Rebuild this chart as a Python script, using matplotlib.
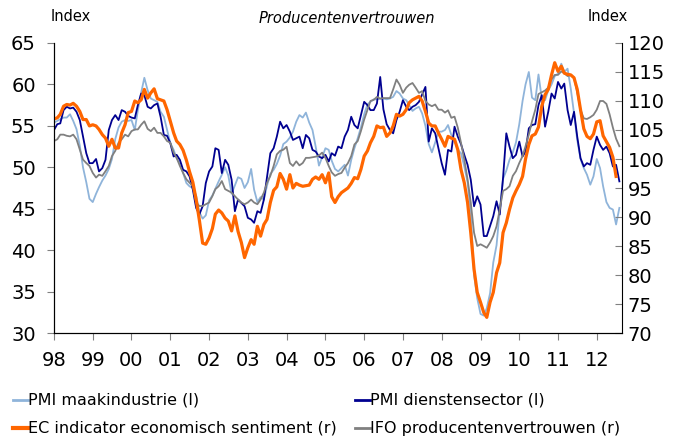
import numpy as np
import pandas as pd
import matplotlib
matplotlib.use("Agg")
import matplotlib.pyplot as plt
from matplotlib.lines import Line2D

# monthly data, Jan 1998 onwards
pmi_manu = [55.4, 55.6, 55.8, 56.0, 56.0, 56.4, 55.6, 54.6, 52.6, 50.0, 48.2, 46.2,
            45.8, 46.8, 47.6, 48.4, 49.0, 49.8, 51.0, 53.4, 54.8, 55.5, 55.7, 55.6,
            55.7, 54.5, 56.9, 59.0, 60.8, 59.3, 58.3, 58.1, 57.9, 56.7, 56.1, 54.5,
            52.9, 52.1, 51.1, 50.5, 49.3, 48.1, 47.7, 47.5, 46.6, 44.6, 43.8, 44.2,
            46.0, 46.6, 47.4, 48.3, 49.1, 50.0, 49.0, 46.8, 47.8, 48.8, 48.6, 47.5,
            48.2, 49.8, 47.3, 45.8, 46.4, 46.1, 47.8, 49.2, 49.7, 50.4, 51.4, 52.8,
            53.1, 53.6, 54.3, 55.5, 56.3, 56.0, 56.6, 55.4, 54.5, 52.5, 50.2, 51.2,
            52.3, 52.1, 50.8, 49.8, 49.5, 49.9, 50.3, 49.0, 50.9, 52.3, 53.5, 54.8,
            56.4, 57.6, 57.9, 58.2, 58.2, 58.3, 58.3, 58.2, 58.3, 58.5, 59.2, 58.9,
            58.3, 58.1, 57.5, 56.8, 57.1, 57.3, 56.5, 55.0, 52.8, 51.8, 53.0, 54.3,
            54.3, 54.5, 55.1, 53.9, 53.3, 52.1, 51.7, 50.1, 48.2, 44.5, 37.0, 34.2,
            32.3, 32.1, 33.0, 34.8, 38.5, 40.6, 44.8, 48.6, 49.6, 50.9, 51.8, 53.0,
            55.2, 58.0, 60.0, 61.5, 58.4, 58.1, 61.2, 58.3, 58.1, 59.3, 60.0, 61.0,
            61.3, 62.5, 61.5, 61.9, 59.5, 56.5, 53.3, 51.0, 49.9, 49.1, 47.9, 48.9,
            51.0, 49.9, 47.7, 45.8, 45.1, 44.9, 43.1, 45.1]

pmi_serv = [54.5, 55.2, 55.3, 56.9, 57.3, 57.1, 57.2, 56.7, 55.7, 53.7, 51.7, 50.5,
            50.5, 51.0, 49.5, 49.9, 50.9, 54.5, 55.7, 56.3, 55.7, 56.9, 56.7, 56.2,
            56.0, 55.9, 57.5, 58.9, 58.7, 57.3, 57.1, 57.5, 57.7, 56.1, 53.9, 53.8,
            52.9, 51.3, 51.5, 50.9, 49.7, 49.5, 48.9, 47.3, 45.1, 44.3, 45.3, 48.1,
            49.5, 50.1, 52.3, 52.1, 49.3, 50.9, 50.3, 48.5, 44.7, 46.1, 45.7, 45.3,
            43.9, 43.7, 43.3, 44.7, 44.5, 46.1, 48.9, 51.7, 52.3, 53.7, 55.5, 54.7,
            55.1, 54.3, 53.3, 53.5, 53.7, 52.3, 53.9, 53.5, 52.1, 51.9, 51.3, 51.1,
            51.5, 50.7, 51.7, 51.4, 52.5, 52.3, 53.7, 54.5, 56.1, 55.1, 54.7, 56.3,
            57.9, 57.5, 56.9, 56.9, 57.7, 60.9, 57.0, 55.2, 54.5, 54.1, 55.7, 56.7,
            58.1, 57.3, 56.9, 57.3, 57.5, 57.9, 58.8, 59.7, 53.1, 54.7, 54.1, 52.3,
            50.5, 49.1, 52.1, 51.9, 54.9, 53.7, 52.8, 51.5, 50.3, 48.5, 45.3, 46.5,
            45.5, 41.7, 41.7, 42.9, 44.1, 45.9, 44.3, 48.7, 54.1, 52.5, 51.1, 51.5,
            53.1, 51.3, 51.9, 54.7, 55.1, 55.2, 57.5, 58.7, 54.9, 56.7, 58.9, 58.3,
            60.3, 59.5, 60.1, 56.9, 55.1, 56.7, 53.7, 51.1, 50.1, 50.5, 50.3, 52.1,
            53.7, 52.7, 52.1, 52.5, 51.7, 50.1, 50.3, 48.3]

ec_esi = [106.9, 107.1, 107.7, 109.1, 109.4, 109.3, 109.6, 109.1, 108.2, 106.8, 106.8, 105.7,
          105.9, 105.7, 105.1, 104.2, 103.6, 102.2, 103.4, 101.9, 101.9, 104.5, 105.9, 108.0,
          108.2, 110.0, 109.7, 110.2, 112.0, 110.5, 111.4, 112.1, 110.4, 110.2, 110.0, 108.5,
          106.5, 104.5, 103.1, 102.5, 101.5, 99.8, 97.8, 96.0, 93.0, 89.5, 85.5, 85.3,
          86.4, 88.0, 90.5, 91.2, 90.7, 89.8, 89.3, 87.6, 90.2, 87.5, 85.6, 83.0,
          84.7, 86.1, 85.3, 88.4, 86.7, 88.7, 89.6, 92.5, 94.6, 95.2, 97.5, 96.5,
          94.8, 97.3, 95.0, 95.8, 95.5, 95.3, 95.4, 95.5, 96.5, 96.9, 96.5, 97.3,
          95.9, 97.6, 93.5, 92.5, 93.5, 94.2, 94.6, 95.0, 95.8, 96.8, 96.6, 98.2,
          100.5, 101.4, 102.8, 103.9, 105.7, 105.4, 105.5, 103.9, 104.5, 105.7, 107.7, 107.4,
          107.7, 108.5, 109.7, 110.2, 110.5, 110.8, 110.0, 108.2, 106.2, 105.7, 105.7, 104.5,
          103.4, 102.2, 103.9, 103.6, 103.4, 101.6, 98.2, 95.9, 92.5, 87.3, 81.0, 77.0,
          75.3, 73.5, 72.7, 75.3, 77.0, 80.4, 82.1, 87.3, 89.0, 91.3, 93.3, 94.5,
          95.6, 97.0, 100.0, 102.5, 104.0, 104.3, 105.5, 109.1, 111.1, 112.0, 114.5, 116.6,
          115.1, 116.0, 114.8, 114.6, 114.5, 114.0, 112.0, 108.5, 105.2, 103.9, 103.5, 104.3,
          106.4, 106.6, 104.0, 103.0, 102.0, 100.3, 97.0]

ifo = [103.1, 103.4, 104.2, 104.2, 104.0, 103.9, 104.2, 103.4, 101.6, 99.9, 99.3, 98.8,
       97.6, 96.8, 97.3, 97.1, 97.9, 98.8, 100.5, 101.4, 102.8, 103.4, 104.2, 103.9,
       104.8, 105.1, 105.1, 105.9, 106.5, 105.2, 104.8, 105.4, 104.5, 104.5, 103.9, 103.1,
       102.8, 101.1, 100.2, 98.8, 97.6, 96.5, 95.9, 95.3, 92.5, 91.9, 91.9, 92.2,
       92.5, 93.6, 94.8, 95.3, 96.2, 94.8, 94.5, 94.2, 93.6, 93.0, 92.5, 92.2,
       92.5, 93.0, 92.5, 92.2, 93.0, 94.2, 95.9, 97.1, 98.8, 100.8, 101.4, 101.6,
       102.1, 99.3, 98.8, 99.6, 98.9, 99.3, 100.2, 100.2, 100.3, 100.4, 100.6, 101.1,
       100.2, 98.8, 97.7, 97.1, 97.4, 97.6, 98.5, 99.3, 100.5, 102.5, 103.1, 104.8,
       106.8, 108.5, 110.0, 110.2, 110.7, 110.4, 110.5, 110.5, 110.5, 112.0, 113.7, 112.8,
       111.4, 112.3, 112.8, 113.1, 112.3, 111.4, 111.7, 110.0, 109.4, 109.1, 109.4, 108.5,
       108.5, 108.0, 108.4, 107.1, 107.3, 105.4, 102.8, 99.9, 96.5, 92.5, 87.3, 85.0,
       85.3, 85.0, 84.7, 85.6, 86.7, 88.4, 91.3, 94.5, 94.8, 95.3, 97.1, 97.9,
       99.3, 100.5, 102.2, 104.2, 106.5, 108.5, 111.2, 111.5, 111.8, 112.3, 113.7, 114.5,
       114.5, 115.1, 114.8, 114.3, 114.5, 114.0, 111.5, 108.5, 107.0, 106.9, 107.2, 107.6,
       108.5, 110.0, 110.0, 109.5, 107.7, 105.4, 103.5, 102.2]

years = [str(y)[-2:] for y in range(1998, 2013)]
labels = ["PMI maakindustrie (l)", "PMI dienstensector (l)",
          "EC indicator economisch sentiment (r)", "IFO producentenvertrouwen (r)"]
colors = ["#8FB4DA", "#000090", "#FF6600", "#808080"]

months = pd.date_range("1998-01-01", periods=len(pmi_manu), freq="MS")

fig = plt.figure(figsize=(6.81, 4.36), dpi=100)
ax = fig.add_axes([0.0793, 0.2362, 0.8341, 0.6652])
ax2 = ax.twinx()

ax.plot(months[:len(pmi_manu)], pmi_manu, color=colors[0], lw=1.3)
ax.plot(months[:len(pmi_serv)], pmi_serv, color=colors[1], lw=1.3)
ax2.plot(months[:len(ifo)], ifo, color=colors[3], lw=1.3)
ax2.plot(months[:len(ec_esi)], ec_esi, color=colors[2], lw=2.3)

ax.set_xlim(pd.Timestamp("1998-01-01"), pd.Timestamp("2012-08-26"))
ax.set_ylim(30, 65)
ax2.set_ylim(70, 120)
ax.set_yticks(np.arange(30, 66, 5))
ax2.set_yticks(np.arange(70, 121, 5))

jan = pd.date_range("1998-01-01", "2012-01-01", freq="YS")
ax.set_xticks(jan)
ax.set_xticklabels(years)
ax.tick_params(axis="x", length=5, color="#808080", direction="out", pad=8, labelsize=14)
ax.tick_params(axis="y", length=5, color="#808080", direction="out", labelsize=14, pad=8)
ax2.tick_params(axis="y", length=5, color="#808080", direction="in", labelsize=14, pad=4)

for a in (ax, ax2):
    a.spines["top"].set_visible(False)
ax.spines["right"].set_visible(False)

fig.text(0.074, 0.962, "Index", fontsize=10.5, ha="left", va="center")
fig.text(0.922, 0.962, "Index", fontsize=10.5, ha="right", va="center")
fig.text(0.51, 0.958, "Producentenvertrouwen", fontsize=10.5, style="italic",
         ha="center", va="center")

# legend, two columns drawn by hand (pixel positions)
W, H = 681, 436
entries = [(13, 400), (355, 400), (13, 428), (355, 428)]
for (x0, y0), lab, col in zip(entries, labels, colors):
    lw = 3 if col == "#FF6600" else 2
    fig.add_artist(Line2D([x0 / W, (x0 + 15) / W], [1 - y0 / H, 1 - y0 / H],
                          color=col, lw=lw, transform=fig.transFigure))
    fig.text((x0 + 15) / W, 1 - y0 / H, lab, fontsize=11.5, ha="left", va="center")

fig.savefig("out.png", dpi=100)
